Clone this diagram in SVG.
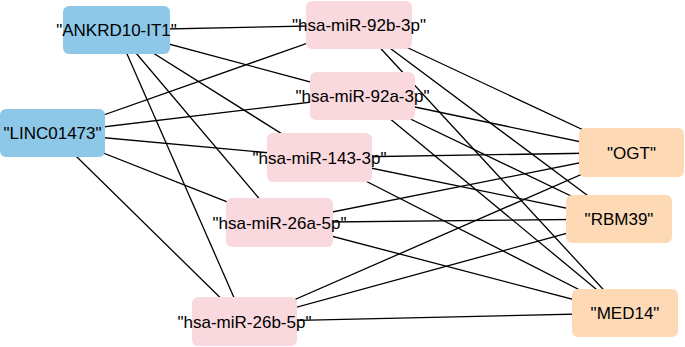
<svg xmlns="http://www.w3.org/2000/svg" width="685" height="347" viewBox="0 0 685 347">
<style>
.e{stroke:#000;stroke-width:1.3;fill:none}
.lnc{fill:#8DC8E8}
.mir{fill:#F9D8DE}
.mrna{fill:#FDD9B5}
text{font-family:"Liberation Sans",Arial,sans-serif;font-size:17px;fill:#000;text-anchor:middle}
</style>
<rect width="685" height="347" fill="#fff"/>
<g id="edges">
<line class="e" x1="116.5" y1="30" x2="359" y2="25"/>
<line class="e" x1="116.5" y1="30" x2="362.5" y2="96"/>
<line class="e" x1="116.5" y1="30" x2="319.5" y2="157.5"/>
<line class="e" x1="116.5" y1="30" x2="279.5" y2="222.5"/>
<line class="e" x1="116.5" y1="30" x2="244.5" y2="321.5"/>
<line class="e" x1="52.5" y1="133" x2="359" y2="25"/>
<line class="e" x1="52.5" y1="133" x2="362.5" y2="96"/>
<line class="e" x1="52.5" y1="133" x2="319.5" y2="157.5"/>
<line class="e" x1="52.5" y1="133" x2="279.5" y2="222.5"/>
<line class="e" x1="52.5" y1="133" x2="244.5" y2="321.5"/>
<line class="e" x1="359" y1="25" x2="631.5" y2="152.5"/>
<line class="e" x1="359" y1="25" x2="619" y2="219"/>
<line class="e" x1="359" y1="25" x2="625" y2="313"/>
<line class="e" x1="362.5" y1="96" x2="631.5" y2="152.5"/>
<line class="e" x1="362.5" y1="96" x2="619" y2="219"/>
<line class="e" x1="362.5" y1="96" x2="625" y2="313"/>
<line class="e" x1="319.5" y1="157.5" x2="631.5" y2="152.5"/>
<line class="e" x1="319.5" y1="157.5" x2="619" y2="219"/>
<line class="e" x1="319.5" y1="157.5" x2="625" y2="313"/>
<line class="e" x1="279.5" y1="222.5" x2="631.5" y2="152.5"/>
<line class="e" x1="279.5" y1="222.5" x2="619" y2="219"/>
<line class="e" x1="279.5" y1="222.5" x2="625" y2="313"/>
<line class="e" x1="244.5" y1="321.5" x2="631.5" y2="152.5"/>
<line class="e" x1="244.5" y1="321.5" x2="619" y2="219"/>
<line class="e" x1="244.5" y1="321.5" x2="625" y2="313"/>
</g>
<g id="ANKRD10-IT1"><rect class="lnc" x="63" y="6" width="107" height="48" rx="6"/><text x="116.5" y="36">"ANKRD10-IT1"</text></g>
<g id="LINC01473"><rect class="lnc" x="0" y="109" width="105" height="48" rx="6"/><text x="52.5" y="139">"LINC01473"</text></g>
<g id="hsa-miR-92b-3p"><rect class="mir" x="306" y="1" width="106" height="48" rx="6"/><text x="359" y="31">"hsa-miR-92b-3p"</text></g>
<g id="hsa-miR-92a-3p"><rect class="mir" x="310" y="72" width="105" height="48" rx="6"/><text x="362.5" y="102">"hsa-miR-92a-3p"</text></g>
<g id="hsa-miR-143-3p"><rect class="mir" x="267" y="133" width="105" height="49" rx="6"/><text x="319.5" y="164">"hsa-miR-143-3p"</text></g>
<g id="hsa-miR-26a-5p"><rect class="mir" x="226" y="198" width="107" height="49" rx="6"/><text x="279.5" y="228.5">"hsa-miR-26a-5p"</text></g>
<g id="hsa-miR-26b-5p"><rect class="mir" x="192" y="297" width="105" height="49" rx="6"/><text x="244.5" y="327.5">"hsa-miR-26b-5p"</text></g>
<g id="OGT"><rect class="mrna" x="579" y="128" width="105" height="49" rx="6"/><text x="631.5" y="158.5">"OGT"</text></g>
<g id="RBM39"><rect class="mrna" x="566" y="195" width="106" height="48" rx="6"/><text x="619" y="225">"RBM39"</text></g>
<g id="MED14"><rect class="mrna" x="572" y="289" width="106" height="48" rx="6"/><text x="625" y="319">"MED14"</text></g>
</svg>
